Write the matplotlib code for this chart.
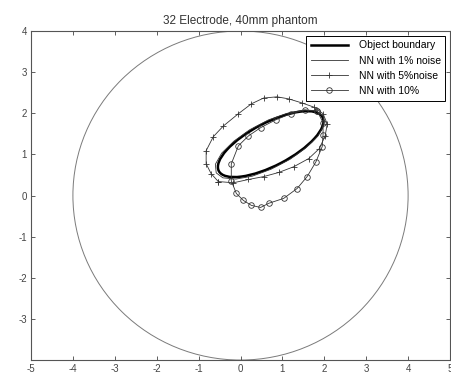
import matplotlib
matplotlib.use("Agg")
import matplotlib.pyplot as plt
from matplotlib.patches import Circle, Ellipse

plt.rcParams['axes.unicode_minus'] = False
plt.rcParams['font.family'] = ['Liberation Sans', 'DejaVu Sans']

title = "32 Electrode, 40mm phantom"
xticks = [-5, -4, -3, -2, -1, 0, 1, 2, 3, 4, 5]
yticks = [-4, -3, -2, -1, 0, 1, 2, 3, 4]
ytick_labels = ['', '-3', '-2', '-1', '0', '1', '2', '3', '4']

# tank boundary (circle)
tank_center = (0.0, 0.0)
tank_radius = 4.0

# object boundary (ellipse)
obj_center = (0.72, 1.25)
obj_width = 2.8
obj_height = 1.04
obj_angle = 28

# NN with 1% noise
nn1_x = [1.98, 1.82, 1.51, 1.12, 0.67, 0.22, -0.16, -0.45, -0.60, -0.58, -0.42, -0.11,
         0.28, 0.73, 1.18, 1.56, 1.85, 1.99, 1.98]
nn1_y = [1.92, 2.05, 2.08, 2.00, 1.84, 1.60, 1.32, 1.03, 0.76, 0.55, 0.43, 0.40,
         0.47, 0.64, 0.88, 1.16, 1.45, 1.71, 1.92]

# NN with 5% noise
nn5_x = [-0.53, -0.70, -0.82, -0.82, -0.65, -0.41, -0.05, 0.26, 0.55, 0.87, 1.15, 1.47,
         1.75, 1.97, 2.07, 2.02, 1.88, 1.63, 1.27, 0.91, 0.55, 0.19, -0.17, -0.53]
nn5_y = [0.34, 0.53, 0.77, 1.09, 1.43, 1.69, 1.99, 2.23, 2.37, 2.40, 2.35, 2.25,
         2.15, 1.99, 1.74, 1.45, 1.14, 0.90, 0.70, 0.56, 0.46, 0.39, 0.31, 0.34]

# NN with 10% noise
nn10_x = [1.83, 1.97, 1.97, 1.95, 1.80, 1.59, 1.35, 1.03, 0.67, 0.48, 0.26, 0.07,
          -0.10, -0.22, -0.22, -0.05, 0.19, 0.48, 0.84, 1.20, 1.54, 1.83]
nn10_y = [2.06, 1.77, 1.48, 1.19, 0.82, 0.46, 0.17, -0.07, -0.19, -0.29, -0.24, -0.12,
          0.05, 0.36, 0.77, 1.21, 1.45, 1.65, 1.84, 1.99, 2.08, 2.06]

fig = plt.figure(figsize=(4.52, 3.81), dpi=100)
ax = fig.add_axes([0.0686, 0.055, 0.927, 0.8636])

ax.add_patch(Circle(tank_center, tank_radius, fill=False, edgecolor='#7a7a7a', lw=0.7))
obj = Ellipse(obj_center, obj_width, obj_height, angle=obj_angle, fill=False,
              edgecolor='black', lw=1.8)
ax.add_patch(obj)
ax.plot([], [], color='black', lw=1.8, label='Object boundary')
ax.plot(nn1_x, nn1_y, color='#333333', lw=0.6, label='NN with 1% noise')
ax.plot(nn5_x, nn5_y, color='#333333', lw=0.6, marker='+', ms=4, mew=0.6,
        label='NN with 5%noise')
ax.plot(nn10_x, nn10_y, color='#333333', lw=0.6, marker='o', ms=4, mew=0.6,
        mfc='none', label='NN with 10%')

ax.set_xlim(-5, 5)
ax.set_ylim(-4, 4)
ax.set_xticks(xticks)
ax.set_yticks(yticks)
ax.set_yticklabels(ytick_labels)
ax.tick_params(direction='in', length=3, width=0.6, labelsize=7, colors='#444444',
               pad=3, top=True, right=True)
for s in ax.spines.values():
    s.set_color('#555555')
    s.set_linewidth(0.8)
ax.set_title(title, fontsize=8.5, color='#333333', pad=5)

leg = ax.legend(loc='upper right', fontsize=7.5, frameon=True, fancybox=False,
                edgecolor='black', framealpha=1, borderaxespad=0.45, labelspacing=0.5,
                handlelength=3.6, handletextpad=1.0, borderpad=0.45)
leg.get_frame().set_linewidth(0.7)

fig.savefig('out.png', dpi=100)
